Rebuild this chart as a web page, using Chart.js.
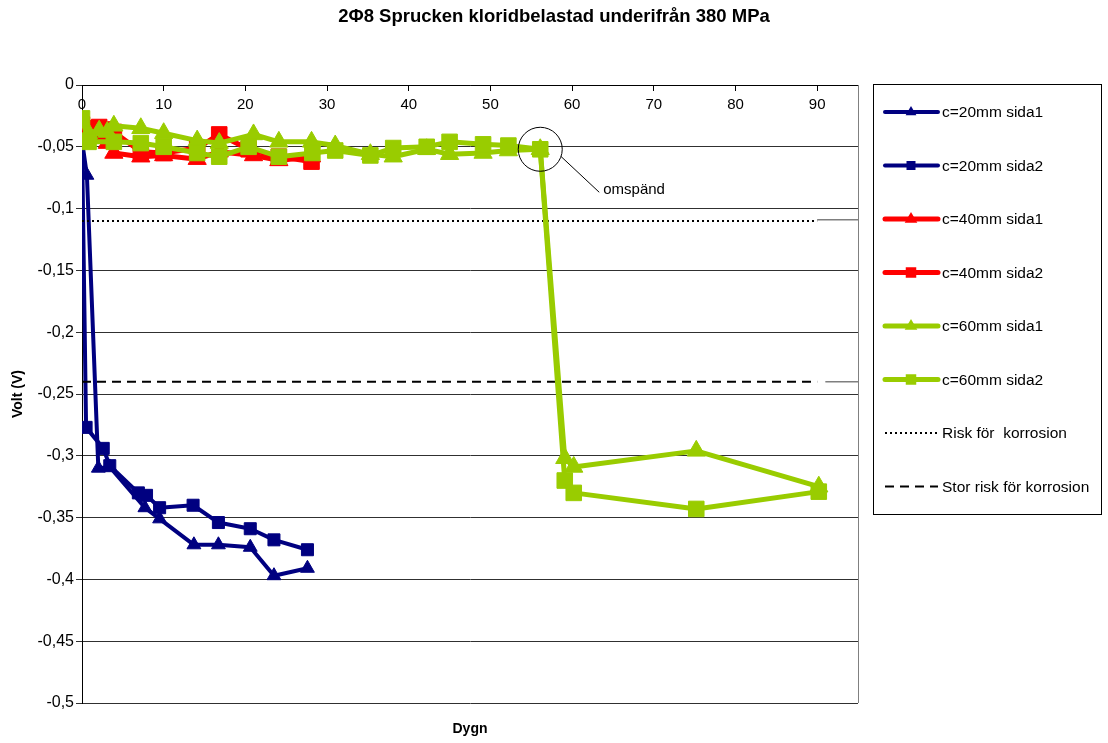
<!DOCTYPE html>
<html>
<head>
<meta charset="utf-8">
<script src="https://cdn.jsdelivr.net/npm/chart.js@4"></script>
<style>
  html, body { margin: 0; padding: 0; background: #ffffff; }
  #wrap { width: 1108px; height: 743px; }
</style>
</head>
<body>
<div id="wrap"><canvas id="chart" width="1108" height="743"></canvas></div>
<script>
// Half-cell potential of the bars over time (days), per cover depth and side
const titleText = '2Φ8 Sprucken kloridbelastad underifrån 380 MPa';
const xAxisTitle = 'Dygn';
const yAxisTitle = 'Volt (V)';

const xTickValues = [0, 10, 20, 30, 40, 50, 60, 70, 80, 90];
const yTickValues = [0, -0.05, -0.1, -0.15, -0.2, -0.25, -0.3, -0.35, -0.4, -0.45, -0.5];

const c20Side1Days = [0, 0.6, 2.0, 3.4, 7.7, 9.5, 13.7, 16.7, 20.6, 23.5, 27.6];
const c20Side1Volt = [-0.045, -0.073, -0.310, -0.309, -0.342, -0.351, -0.372, -0.372, -0.374, -0.397, -0.391];

const c20Side2Days = [0, 0.5, 2.6, 3.4, 6.9, 7.9, 9.5, 13.6, 16.7, 20.6, 23.5, 27.6];
const c20Side2Volt = [-0.045, -0.277, -0.294, -0.308, -0.330, -0.332, -0.342, -0.340, -0.354, -0.359, -0.368, -0.376];

const c40Side1Days = [0, 0.8, 2.1, 3.1, 3.9, 7.2, 10.0, 14.1, 16.8, 21.0, 24.1, 28.1];
const c40Side1Volt = [-0.037, -0.041, -0.043, -0.047, -0.055, -0.058, -0.057, -0.060, -0.054, -0.057, -0.061, -0.058];

const c40Side2Days = [0, 0.8, 2.1, 3.1, 3.9, 7.2, 10.0, 14.1, 16.8, 20.4, 24.1, 28.1];
const c40Side2Volt = [-0.032, -0.035, -0.034, -0.036, -0.038, -0.054, -0.055, -0.051, -0.040, -0.052, -0.058, -0.062];

const c60Side1Days = [0.8, 2.1, 3.1, 3.9, 7.2, 10.0, 14.1, 16.8, 21.0, 24.1, 28.1, 31.0, 35.3, 38.1, 42.2, 45.0, 49.1, 52.2, 56.1, 59.1, 60.2, 75.2, 90.2];
const c60Side1Volt = [-0.039, -0.037, -0.038, -0.033, -0.035, -0.039, -0.045, -0.047, -0.040, -0.046, -0.046, -0.049, -0.056, -0.058, -0.052, -0.056, -0.055, -0.053, -0.052, -0.302, -0.309, -0.296, -0.325];

const c60Side2Days = [0, 0.8, 3.9, 7.2, 10.0, 14.1, 16.8, 20.4, 24.1, 28.2, 31.0, 35.3, 38.1, 42.2, 45.0, 49.1, 52.2, 56.1, 59.1, 60.2, 75.2, 90.2];
const c60Side2Volt = [-0.027, -0.046, -0.046, -0.047, -0.050, -0.055, -0.058, -0.050, -0.058, -0.055, -0.053, -0.057, -0.051, -0.050, -0.046, -0.048, -0.049, -0.052, -0.320, -0.330, -0.343, -0.329];

// Corrosion risk thresholds
const riskDays = [0, 90];
const riskVolt = [-0.11, -0.11];
const highRiskDays = [0, 90];
const highRiskVolt = [-0.24, -0.24];
const riskTailDays = [90, 95];
const riskTailVolt = [-0.109, -0.109];
const highRiskTailDays = [91, 95];
const highRiskTailVolt = [-0.24, -0.24];

// Re-tensioning note
const noteText = 'omspänd';
const noteDay = 56.1;
const noteVolt = -0.052;

const BLUE = '#000080';
const RED = '#ff0000';
const GREEN = '#99cc00';
const FONT = '"Liberation Sans", Arial, sans-serif';

const pts = (xs, ys) => xs.map((x, i) => ({ x: x, y: ys[i] }));

function series(label, xs, ys, color, width, style, radius, order) {
  return {
    label: label,
    data: pts(xs, ys),
    showLine: true,
    borderColor: color,
    backgroundColor: color,
    borderWidth: width,
    borderJoinStyle: 'round',
    pointStyle: style,
    pointRadius: radius,
    pointHoverRadius: radius,
    pointBorderWidth: 1,
    pointBorderColor: color,
    pointBackgroundColor: color,
    order: order
  };
}

function refLine(label, xs, ys, color, width, dash, order) {
  return {
    label: label,
    data: pts(xs, ys),
    showLine: true,
    borderColor: color,
    backgroundColor: color,
    borderWidth: width,
    borderDash: dash,
    pointRadius: 0,
    pointHoverRadius: 0,
    order: order
  };
}

const datasets = [
  series('c=20mm sida1', c20Side1Days, c20Side1Volt, BLUE, 4, 'triangle', 8, 7),
  series('c=20mm sida2', c20Side2Days, c20Side2Volt, BLUE, 4, 'rect', 8.5, 6),
  series('c=40mm sida1', c40Side1Days, c40Side1Volt, RED, 5, 'triangle', 10.5, 3),
  series('c=40mm sida2', c40Side2Days, c40Side2Volt, RED, 5, 'rect', 11, 2),
  series('c=60mm sida1', c60Side1Days, c60Side1Volt, GREEN, 5, 'triangle', 10.5, 1),
  series('c=60mm sida2', c60Side2Days, c60Side2Volt, GREEN, 5, 'rect', 11, 0),
  refLine('Risk för  korrosion', riskDays, riskVolt, '#000000', 2, [2, 3], 5),
  refLine('Stor risk för korrosion', highRiskDays, highRiskVolt, '#000000', 2, [9, 6], 4),
  refLine('', riskTailDays, riskTailVolt, '#7f7f7f', 1.5, [], 5),
  refLine('', highRiskTailDays, highRiskTailVolt, '#7f7f7f', 1.5, [], 4)
];

function fmtVolt(v) {
  const r = Math.round(v * 100) / 100;
  if (r === 0) return '0';
  return String(r).replace('.', ',');
}

function drawMarker(ctx, style, x, y, size, color) {
  ctx.save();
  ctx.fillStyle = color;
  ctx.beginPath();
  if (style === 'triangle') {
    ctx.moveTo(x, y - size);
    ctx.lineTo(x + size * 0.9, y + size * 0.55);
    ctx.lineTo(x - size * 0.9, y + size * 0.55);
    ctx.closePath();
  } else {
    ctx.rect(x - size * 0.75, y - size * 0.75, size * 1.5, size * 1.5);
  }
  ctx.fill();
  ctx.restore();
}

const decorations = {
  id: 'decorations',
  afterDatasetsDraw(chart) {
    const ctx = chart.ctx;
    const xs = chart.scales.x;
    const ys = chart.scales.y;
    // circled point with leader line and note
    const cx = xs.getPixelForValue(noteDay);
    const cy = ys.getPixelForValue(noteVolt);
    const r = 22;
    ctx.save();
    ctx.strokeStyle = '#000000';
    ctx.lineWidth = 1;
    ctx.beginPath();
    ctx.arc(cx, cy, r, 0, Math.PI * 2);
    ctx.stroke();
    const a = Math.atan2(8, 23);
    ctx.beginPath();
    ctx.moveTo(cx + r * Math.cos(a), cy + r * Math.sin(a));
    ctx.lineTo(cx + 59, cy + 43);
    ctx.stroke();
    ctx.fillStyle = '#000000';
    ctx.font = '15px ' + FONT;
    ctx.textAlign = 'left';
    ctx.textBaseline = 'middle';
    ctx.fillText(noteText, cx + 63, cy + 41);
    ctx.restore();
  },
  afterDraw(chart) {
    const ctx = chart.ctx;
    const area = chart.chartArea;
    ctx.save();
    // plot area right edge
    ctx.strokeStyle = '#808080';
    ctx.lineWidth = 1;
    ctx.beginPath();
    ctx.moveTo(Math.round(area.right) + 0.5, area.top);
    ctx.lineTo(Math.round(area.right) + 0.5, area.bottom);
    ctx.stroke();

    // title
    ctx.fillStyle = '#000000';
    ctx.font = 'bold 18.5px ' + FONT;
    ctx.textAlign = 'center';
    ctx.textBaseline = 'middle';
    ctx.fillText(titleText, 554, 17);

    // axis titles
    ctx.font = 'bold 14px ' + FONT;
    ctx.fillText(xAxisTitle, (area.left + area.right) / 2, 729);
    ctx.save();
    ctx.translate(18, (area.top + area.bottom) / 2);
    ctx.rotate(-Math.PI / 2);
    ctx.fillText(yAxisTitle, 0, 0);
    ctx.restore();

    // legend
    const box = { left: 873.5, top: 84.5, right: 1101.5, bottom: 514.5 };
    ctx.strokeStyle = '#000000';
    ctx.lineWidth = 1;
    ctx.strokeRect(box.left, box.top, box.right - box.left, box.bottom - box.top);
    const entries = chart.data.datasets.filter(d => d.label);
    ctx.font = '15.5px ' + FONT;
    ctx.textAlign = 'left';
    ctx.textBaseline = 'middle';
    entries.forEach((d, i) => {
      const y = 112 + i * 53.5;
      ctx.save();
      ctx.strokeStyle = d.borderColor;
      ctx.lineWidth = d.borderWidth;
      ctx.lineCap = d.borderDash && d.borderDash.length ? 'butt' : 'round';
      ctx.setLineDash(d.borderDash || []);
      ctx.beginPath();
      ctx.moveTo(885, y);
      ctx.lineTo(938, y);
      ctx.stroke();
      ctx.restore();
      if (d.pointRadius > 0) {
        drawMarker(ctx, d.pointStyle, 911, y, d.pointRadius > 9 ? 7 : 6, d.borderColor);
      }
      ctx.fillStyle = '#000000';
      ctx.fillText(d.label, 942, y + 1);
    });
    ctx.restore();
  }
};

new Chart(document.getElementById('chart'), {
  type: 'scatter',
  data: { datasets: datasets },
  plugins: [decorations],
  options: {
    responsive: false,
    animation: false,
    events: [],
    layout: { padding: { top: 85, right: 250, bottom: 40, left: 0 } },
    plugins: {
      legend: { display: false },
      title: { display: false },
      tooltip: { enabled: false }
    },
    elements: { line: { tension: 0 } },
    scales: {
      x: {
        type: 'linear',
        position: { y: 0 },
        min: 0,
        max: 95,
        afterFit(scale) { scale.height = 0; },
        afterBuildTicks(scale) { scale.ticks = xTickValues.map(v => ({ value: v })); },
        grid: { drawOnChartArea: false, drawTicks: true, tickLength: 5, color: '#000000' },
        border: { display: true, color: '#000000', width: 1 },
        ticks: {
          padding: 6,
          color: '#000000',
          font: { family: FONT, size: 15 },
          maxRotation: 0,
          autoSkip: false
        }
      },
      y: {
        type: 'linear',
        position: 'left',
        min: -0.5,
        max: 0,
        afterFit(scale) { scale.width = 82; },
        afterBuildTicks(scale) { scale.ticks = yTickValues.map(v => ({ value: v })); },
        grid: { color: '#303030', lineWidth: 1, tickLength: 6 },
        border: { display: true, color: '#000000', width: 1 },
        ticks: {
          padding: 2,
          color: '#000000',
          font: { family: FONT, size: 16 },
          autoSkip: false,
          callback: v => fmtVolt(v)
        }
      }
    }
  }
});
</script>
</body>
</html>
